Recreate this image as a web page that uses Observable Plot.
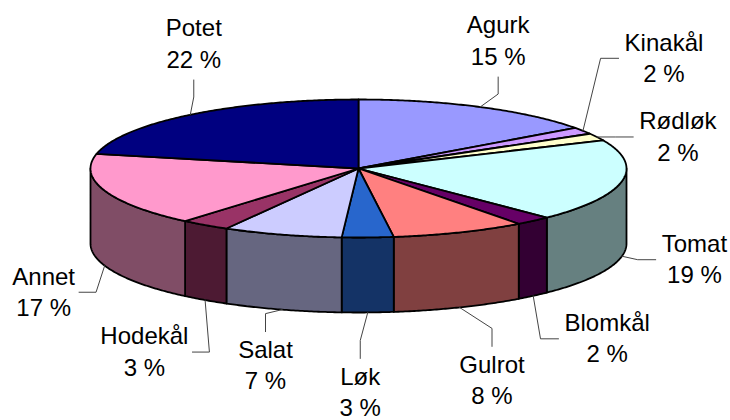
<!DOCTYPE html>
<html><head><meta charset="utf-8">
<script src="https://cdn.jsdelivr.net/npm/d3@7"></script>
<script src="https://cdn.jsdelivr.net/npm/@observablehq/plot@0.6"></script>
<style>body{margin:0;background:#fff} #chart{width:730px;height:420px}</style>
</head><body><div id="chart"></div>
<script>
// ---- data ----
const categories = ["Agurk","Kinakål","Rødløk","Tomat","Blomkål","Gulrot","Løk","Salat","Hodekål","Annet","Potet"];
const values = [15, 1.6, 1.7, 19.3, 2.2, 8.1, 3.1, 7.2, 3.0, 17.2, 21.6];
const colors = ["#9999FF","#CC99FF","#FFFFCC","#CCFFFF","#660066","#FF8080","#2866CC","#CCCCFF","#993366","#FF99CC","#000080"];

// ---- layout (label block offset in px from its leader anchor, leader style) ----
const labelDx = [18, 81, 81, 72.5, 74, 32.5, -7.5, -16.6, -60.7, -61, 3.5];
const labelDy = [-68, -74.5, -2, 1.5, 41, 71, 78, 54, 50, 24.6, -72.8];
const labelSide = ["up","right","right","right","right","down","down","down","left","left","up"];

// ---- geometry of the 3-D pie ----
const xRange = [90, 626];      // pixel span of the top ellipse
const yRange = [237, 99];
const rx = (xRange[1] - xRange[0]) / 2;
const ry = (yRange[0] - yRange[1]) / 2;
const depthPx = 75;
const D = depthPx / ry;         // depth in y data units
const font = "Liberation Sans, Arial, Helvetica, sans-serif";
const fontSize = 24;

const total = d3.sum(values);
let cum = 0;
const slices = values.map((v, i) => {
  const a = cum / total * 2 * Math.PI;
  cum += v;
  const b = cum / total * 2 * Math.PI;
  return {i, name: categories[i], v, a, b, color: colors[i]};
});

function arcPts(a, b, off = 0) {
  const n = Math.max(2, Math.ceil((b - a) / (Math.PI / 360)));
  const pts = [];
  for (let k = 0; k <= n; k++) {
    const t = a + (b - a) * k / n;
    pts.push({x: Math.sin(t), y: Math.cos(t) - off});
  }
  return pts;
}

const sidePolys = [];
for (const s of slices) {
  const a = Math.max(s.a, Math.PI / 2), b = Math.min(s.b, 3 * Math.PI / 2);
  if (a < b) {
    const top = arcPts(a, b, 0);
    const bot = arcPts(a, b, D).reverse();
    const pts = top.concat(bot, [top[0]]);
    const c = d3.rgb(s.color);
    const side = d3.rgb(c.r * 0.5, c.g * 0.5, c.b * 0.5).formatHex();
    sidePolys.push({pts, fill: side});
  }
}
const topPolys = slices.map(s => ({pts: [{x: 0, y: 0}, ...arcPts(s.a, s.b, 0), {x: 0, y: 0}], fill: s.color}));

// text measuring
const ctx = document.createElement("canvas").getContext("2d");
ctx.font = `${fontSize}px ${font}`;

const labels = [];
const leaders = [];
slices.forEach((s, i) => {
  const m = (s.a + s.b) / 2;
  const front = Math.cos(m) < 0;
  const ax = Math.sin(m), ay = Math.cos(m) - (front ? D : 0);
  const pct = Math.round(s.v / total * 100 + 1e-9) + " %";
  const dx = labelDx[i], dy = labelDy[i];
  labels.push({x: ax, y: ay, dx, dy, text: s.name + "\n" + pct});
  const hw = Math.max(ctx.measureText(s.name).width, ctx.measureText(pct).width) / 2;
  let end, elbow;
  switch (labelSide[i]) {
    case "up": end = [dx, dy + 38]; elbow = [dx, dy + 55]; break;
    case "down": end = [dx, dy - 32]; elbow = [dx, dy - 50]; break;
    case "right": end = [dx - hw - 6, dy + 2]; elbow = [end[0] - 18, dy + 2]; break;
    case "left": end = [dx + hw + 4, dy + 2]; elbow = [end[0] + 17, dy + 2]; break;
  }
  const toData = p => ({x: ax + p[0] / rx, y: ay - p[1] / ry, id: i});
  leaders.push(toData(end), toData(elbow), toData([0, 0]));
});

const marks = [
  ...sidePolys.map(p => Plot.line(p.pts, {x: "x", y: "y", fill: p.fill, stroke: "#000", strokeWidth: 1.8, strokeLinejoin: "round"})),
  ...topPolys.map(p => Plot.line(p.pts, {x: "x", y: "y", fill: p.fill, stroke: "#000", strokeWidth: 1.8, strokeLinejoin: "round"})),
  Plot.line(leaders, {x: "x", y: "y", z: "id", stroke: "#444", strokeWidth: 1}),
  ...labels.map(l => Plot.text([l], {x: "x", y: "y", dx: l.dx, dy: l.dy, text: "text", fontSize, fontFamily: font, lineHeight: 1.3, fill: "#000"}))
];

const chart = Plot.plot({
  width: 730, height: 420,
  margin: 0,
  style: {background: "#fff", overflow: "visible"},
  x: {domain: [-1, 1], range: xRange, axis: null},
  y: {domain: [-1, 1], range: yRange, axis: null},
  marks
});
document.getElementById("chart").appendChild(chart);
</script>
</body></html>
